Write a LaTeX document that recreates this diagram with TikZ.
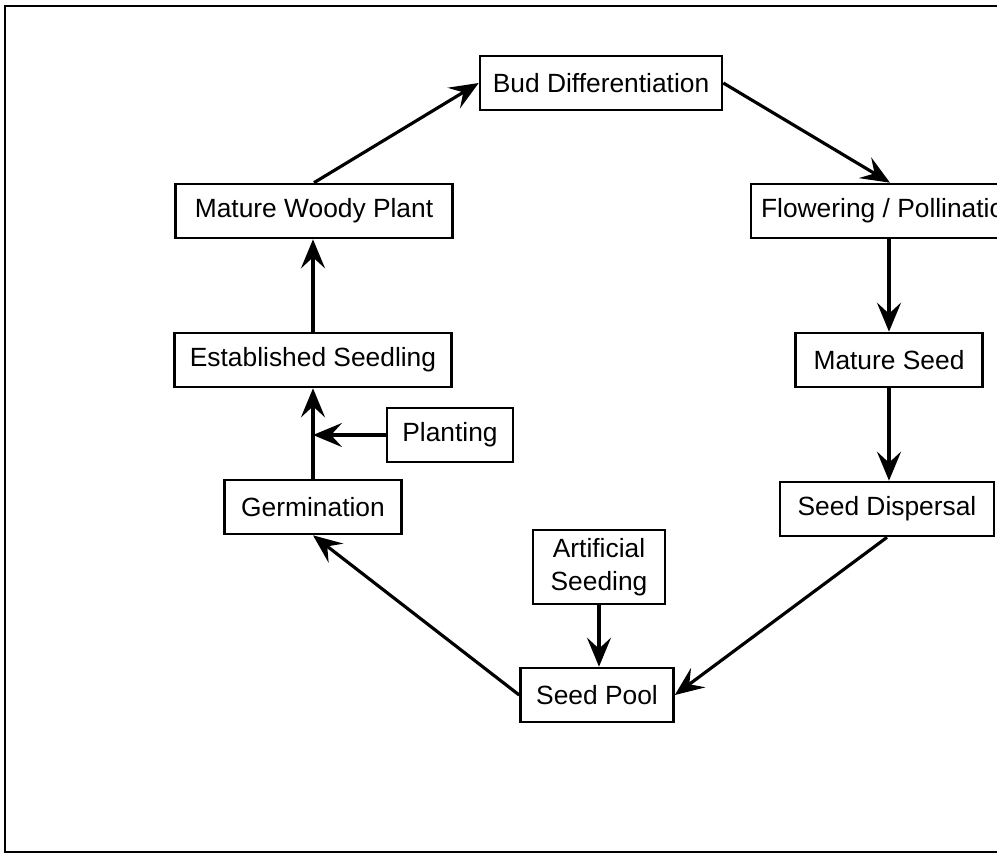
\documentclass[tikz,border=0pt]{standalone}
\usepackage{fontspec}
\setmainfont{Liberation Sans}
\usepackage{tikz}
\usetikzlibrary{arrows.meta}
\tikzstyle{stage}=[draw,line width=1.5pt,minimum height=1.08cm,inner sep=2pt,font=\fontsize{15}{17}\selectfont]
\tikzstyle{flow}=[-{Stealth[length=5.8mm,width=4.8mm,inset=2.2mm]},line width=1.8pt]

\begin{document}
\begin{tikzpicture}
\useasboundingbox (0,0) rectangle (19.94,-17.08);
\draw[line width=1.1pt] (0.1,-0.12) rectangle (20.6,-17.04);

\node (Bud) [stage,minimum width=4.84cm] at (12.02,-1.66) {Bud Differentiation};
\node (Flower) [stage,minimum width=5.56cm] at (17.8,-4.22) {Flowering / Pollination};
\node (Seed) [stage,minimum width=3.74cm] at (17.78,-7.2) {Mature Seed};
\node (Disp) [stage,minimum width=4.28cm] at (17.74,-10.18) {Seed Dispersal};
\node (Pool) [stage,minimum width=3.06cm] at (11.94,-13.9) {Seed Pool};
\node (Art) [stage,minimum width=2.64cm,minimum height=1.48cm,align=center,font=\fontsize{15}{19}\selectfont] at (11.98,-11.34) {Artificial\\Seeding};
\node (Germ) [stage,minimum width=3.54cm] at (6.26,-10.14) {Germination};
\node (Plant) [stage,minimum width=2.52cm] at (9.0,-8.7) {Planting};
\node (Estab) [stage,minimum width=5.54cm] at (6.26,-7.2) {Established Seedling};
\node (Woody) [stage,minimum width=5.54cm] at (6.28,-4.22) {Mature Woody Plant};

\draw[flow] (Woody.north) -- (Bud.west);
\draw[flow] (Bud.east) -- (Flower.north);
\draw[flow] (Flower.south -| Seed.north) -- (Seed.north);
\draw[flow] (Seed.south) -- (Seed.south |- Disp.north);
\draw[flow] (Disp.south) -- (Pool.east);
\draw[flow] (Pool.west) -- (Germ.south);
\draw[flow] (Germ.north) -- (Germ.north |- Estab.south);
\draw[flow] (Plant.west) -- (Plant.west -| Germ.north);
\draw[flow] (Estab.north) -- (Estab.north |- Woody.south);
\draw[flow] (Art.south) -- (Art.south |- Pool.north);
\end{tikzpicture}
\end{document}
